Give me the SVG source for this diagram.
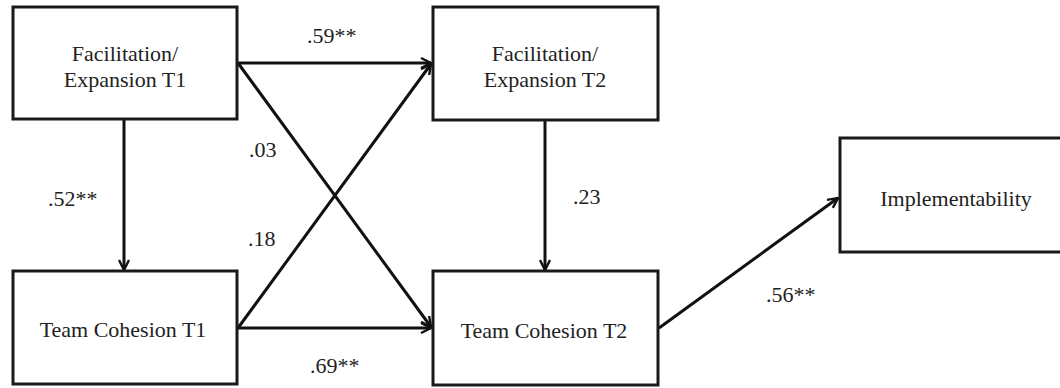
<svg xmlns="http://www.w3.org/2000/svg" width="1060" height="388" viewBox="0 0 1060 388">
  <defs>
    <marker id="arrow" viewBox="0 0 12 12" refX="11" refY="6" markerWidth="12" markerHeight="12" markerUnits="userSpaceOnUse" orient="auto">
      <path d="M1,1 L11,6 L1,11" fill="none" stroke="#111" stroke-width="2.4" stroke-linejoin="miter"/>
    </marker>
    <style>
      .box { fill: #fff; stroke: #1a1a1a; stroke-width: 3; }
      .lbl { font-family: "Liberation Serif", "Times New Roman", serif; font-size: 22px; fill: #222; }
      .mid { text-anchor: middle; }
      .edge { fill: none; stroke: #111; stroke-width: 3; marker-end: url(#arrow); }
    </style>
  </defs>
  <rect width="1060" height="388" fill="#fff"/>

  <!-- paths between constructs -->
  <g id="connectors">
    <line class="edge" x1="238" y1="63" x2="431" y2="63"/>
    <line class="edge" x1="238" y1="63" x2="431" y2="327"/>
    <line class="edge" x1="238" y1="328" x2="431" y2="64"/>
    <line class="edge" x1="238" y1="328" x2="431" y2="328"/>
    <line class="edge" x1="124" y1="120" x2="124" y2="270"/>
    <line class="edge" x1="545" y1="120" x2="545" y2="270"/>
    <line class="edge" x1="659" y1="328" x2="838" y2="198"/>
  </g>

  <!-- path coefficients -->
  <g id="coefficients">
    <text class="lbl" x="307" y="43">.59**</text>
    <text class="lbl" x="249" y="157">.03</text>
    <text class="lbl" x="248" y="246">.18</text>
    <text class="lbl" x="48" y="206">.52**</text>
    <text class="lbl" x="310" y="373">.69**</text>
    <text class="lbl" x="573" y="204">.23</text>
    <text class="lbl" x="766" y="302">.56**</text>
  </g>

  <g id="fe1">
    <rect class="box" x="13" y="7" width="224" height="112"/>
    <text class="lbl mid" x="125" y="61">Facilitation/</text>
    <text class="lbl mid" x="125" y="87">Expansion T1</text>
  </g>
  <g id="tc1">
    <rect class="box" x="13" y="271" width="224" height="113"/>
    <text class="lbl mid" x="123" y="337">Team Cohesion T1</text>
  </g>
  <g id="fe2">
    <rect class="box" x="433" y="7" width="225" height="113"/>
    <text class="lbl mid" x="545" y="61">Facilitation/</text>
    <text class="lbl mid" x="545" y="87">Expansion T2</text>
  </g>
  <g id="tc2">
    <rect class="box" x="433" y="271" width="225" height="114"/>
    <text class="lbl mid" x="544" y="338">Team Cohesion T2</text>
  </g>
  <g id="implementability">
    <rect class="box" x="840" y="138" width="230" height="114"/>
    <text class="lbl mid" x="956" y="206">Implementability</text>
  </g>
</svg>
